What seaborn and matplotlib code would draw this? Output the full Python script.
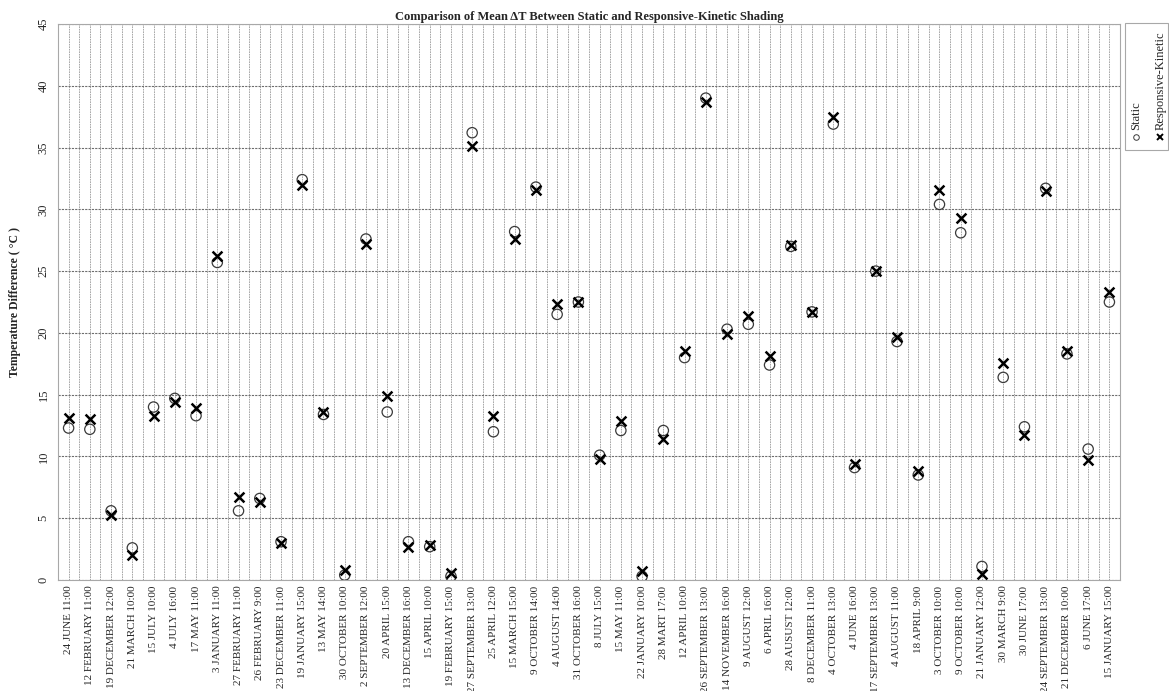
import numpy as np
import pandas as pd
import matplotlib.pyplot as plt
import seaborn as sns
from matplotlib.ticker import FixedLocator, MultipleLocator
from matplotlib.lines import Line2D
from matplotlib.patches import Rectangle

# data
dates = ['24 JUNE 11:00', '12 FEBRUARY 11:00', '19 DECEMBER 12:00', '21 MARCH 10:00',
         '15 JULY 10:00', '4 JULY 16:00', '17 MAY 11:00', '3 JANUARY 11:00',
         '27 FEBRUARY 11:00', '26 FEBRUARY 9:00', '23 DECEMBER 11:00', '19 JANUARY 15:00',
         '13 MAY 14:00', '30 OCTOBER 10:00', '2 SEPTEMBER 12:00', '20 APRIL 15:00',
         '13 DECEMBER 16:00', '15 APRIL 10:00', '19 FEBRUARY 15:00', '27 SEPTEMBER 13:00',
         '25 APRIL 12:00', '15 MARCH 15:00', '9 OCTOBER 14:00', '4 AUGUST 14:00',
         '31 OCTOBER 16:00', '8 JULY 15:00', '15 MAY 11:00', '22 JANUARY 10:00',
         '28 MART 17:00', '12 APRIL 10:00', '26 SEPTEMBER 13:00', '14 NOVEMBER 16:00',
         '9 AUGUST 12:00', '6 APRIL 16:00', '28 AUSUST 12:00', '8 DECEMBER 11:00',
         '4 OCTOBER 13:00', '4 JUNE 16:00', '17 SEPTEMBER 13:00', '4 AUGUST 11:00',
         '18 APRIL 9:00', '3 OCTOBER 10:00', '9 OCTOBER 10:00', '21 JANUARY 12:00',
         '30 MARCH 9:00', '30 JUNE 17:00', '24 SEPTEMBER 13:00', '21 DECEMBER 10:00',
         '6 JUNE 17:00', '15 JANUARY 15:00']

static = [12.3, 12.2, 5.6, 2.6, 14.0, 14.7, 13.3, 25.7, 5.6, 6.6,
          3.1, 32.4, 13.4, 0.4, 27.6, 13.6, 3.1, 2.7, 0.3, 36.2,
          12.0, 28.2, 31.8, 21.5, 22.5, 10.1, 12.1, 0.3, 12.1, 18.0,
          39.0, 20.3, 20.7, 17.4, 27.0, 21.7, 36.9, 9.1, 25.0, 19.3,
          8.5, 30.4, 28.1, 1.1, 16.4, 12.4, 31.7, 18.3, 10.6, 22.5]

kinetic = [13.1, 13.0, 5.3, 2.0, 13.3, 14.4, 13.9, 26.2, 6.7, 6.3,
           3.0, 32.0, 13.6, 0.8, 27.2, 14.9, 2.7, 2.8, 0.6, 35.1,
           13.3, 27.6, 31.6, 22.3, 22.5, 9.8, 12.9, 0.7, 11.4, 18.5,
           38.7, 19.9, 21.4, 18.1, 27.1, 21.7, 37.5, 9.4, 25.0, 19.7,
           8.8, 31.6, 29.3, 0.5, 17.6, 11.7, 31.5, 18.5, 9.7, 23.3]

df = pd.DataFrame({'pos': np.arange(len(dates)), 'date': dates,
                   'Static': static, 'Responsive-Kinetic': kinetic})

sns.set_style('white')
plt.rcParams['font.family'] = ['Liberation Serif', 'DejaVu Serif']

fig = plt.figure(figsize=(11.69, 6.91), dpi=100)
ax = fig.add_axes([0.0496, 0.1606, 0.9085, 0.8047])

sns.scatterplot(data=df, x='pos', y='Static', marker='o', s=55,
                facecolors='none', edgecolor='#3a3a3a', linewidth=0.9, ax=ax, zorder=3)
sns.scatterplot(data=df, x='pos', y='Responsive-Kinetic', marker='x', s=50,
                color='black', linewidth=1.8, ax=ax, zorder=4)

ax.set_xlim(-0.5, len(dates) - 0.5)
ax.set_ylim(0, 45)
ax.yaxis.set_major_locator(MultipleLocator(5))
ax.xaxis.set_major_locator(FixedLocator(df['pos']))
ax.xaxis.set_minor_locator(FixedLocator(df['pos'] + 0.5))
ax.set_xticklabels(dates, rotation=90, fontsize=8)
ax.tick_params(axis='y', labelrotation=90, labelsize=9, length=0, pad=6)
ax.tick_params(axis='x', which='both', length=0, pad=4)
for lab in ax.get_yticklabels():
    lab.set_va('center')

# dashed grid like the original
ax.grid(axis='y', which='major', color='#6e6e6e', linestyle=(0, (2, 1)), linewidth=0.8)
ax.grid(axis='x', which='major', color='#9a9a9a', linestyle=(0, (2, 1)), linewidth=0.6)
ax.grid(axis='x', which='minor', color='#9a9a9a', linestyle=(0, (2, 1)), linewidth=0.6)
ax.set_axisbelow(True)
for sp in ax.spines.values():
    sp.set_color('#a8a8a8')
    sp.set_linewidth(0.8)

ax.set_xlabel('')
ax.set_ylabel('Temperature Difference ( °C )', fontsize=8.5, fontweight='bold', labelpad=12)
ax.set_title('Comparison of Mean ΔT Between Static and Responsive-Kinetic Shading',
             fontsize=9, fontweight='bold', pad=3)

# legend box with vertical text, as in the reference
fig.add_artist(Rectangle((0.9625, 0.783), 0.0365, 0.184, transform=fig.transFigure,
                         facecolor='white', edgecolor='#a8a8a8', linewidth=0.8))
fig.add_artist(Line2D([0.9715], [0.8015], transform=fig.transFigure, marker='o',
                      markersize=4, markerfacecolor='none', markeredgecolor='#3a3a3a',
                      markeredgewidth=0.7, linestyle='none'))
fig.text(0.9715, 0.812, 'Static', rotation=90, ha='center', va='bottom', fontsize=9)
fig.add_artist(Line2D([0.9925], [0.8015], transform=fig.transFigure, marker='x',
                      markersize=4.5, color='black', markeredgewidth=1.4, linestyle='none'))
fig.text(0.9925, 0.812, 'Responsive-Kinetic', rotation=90, ha='center', va='bottom', fontsize=9)

fig.savefig('out.png', dpi=100)
